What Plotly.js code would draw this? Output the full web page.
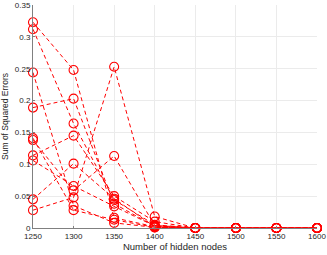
<!DOCTYPE html>
<html>
<head>
<meta charset="utf-8">
<script src="https://cdn.plot.ly/plotly-3.0.1.min.js"></script>
<style>html,body{margin:0;padding:0;background:#fff;}#chart{width:327px;height:255px;}</style>
</head>
<body>
<div id="chart"></div>
<script>
const hiddenNodes = [1250, 1300, 1350, 1400, 1450, 1500, 1550, 1600];
const run1  = [0.323, 0.248, 0.016, 0.002, 0, 0, 0, 0];
const run2  = [0.312, 0.164, 0.044, 0.005, 0, 0, 0, 0];
const run3  = [0.244, 0.035, 0.008, 0.001, 0, 0, 0, 0];
const run4  = [0.189, 0.203, 0.038, 0.003, 0, 0, 0, 0];
const run5  = [0.141, 0.028, 0.013, 0.001, 0, 0, 0, 0];
const run6  = [0.138, 0.059, 0.113, 0.004, 0, 0, 0, 0];
const run7  = [0.114, 0.145, 0.050, 0.010, 0, 0, 0, 0];
const run8  = [0.106, 0.066, 0.034, 0.003, 0, 0, 0, 0];
const run9  = [0.045, 0.101, 0.046, 0.002, 0, 0, 0, 0];
const run10 = [0.028, 0.048, 0.253, 0.018, 0, 0, 0, 0];
const runs = [run1, run2, run3, run4, run5, run6, run7, run8, run9, run10];
const xTicks = [1250, 1300, 1350, 1400, 1450, 1500, 1550, 1600];
const yTicks = [0, 0.05, 0.1, 0.15, 0.2, 0.25, 0.3, 0.35];
const yTickText = ['0', '0.05', '0.1', '0.15', '0.2', '0.25', '0.3', '0.35'];

const traces = runs.map(r => ({
  x: hiddenNodes, y: r, type: 'scatter', mode: 'lines+markers',
  cliponaxis: false,
  line: {color: '#ff0000', width: 1, dash: '4px,3px'},
  marker: {symbol: 'circle-open', size: 9, color: '#ff0000', line: {color: '#ff0000', width: 1.1}}
}));

const font = {family: 'Liberation Sans, Arial, sans-serif', size: 8, color: '#262626'};
const layout = {
  width: 327, height: 255,
  margin: {l: 33, r: 10, t: 5, b: 27},
  paper_bgcolor: '#fff', plot_bgcolor: '#fff',
  showlegend: false,
  font: font,
  xaxis: {
    range: [1250, 1600], tickvals: xTicks, ticktext: xTicks.map(String),
    ticklabeloverflow: 'allow',
    showgrid: true, gridcolor: '#ebebeb', gridwidth: 1,
    zeroline: false, showline: true, linecolor: '#808080', linewidth: 1,
    ticks: 'inside', ticklen: 2, tickcolor: '#808080',
    tickfont: font,
    title: {text: 'Number of hidden nodes', font: {family: font.family, size: 9.5, color: '#262626'}, standoff: 3}
  },
  yaxis: {
    range: [0, 0.35], tickvals: yTicks, ticktext: yTickText,
    ticklabeloverflow: 'allow',
    showgrid: true, gridcolor: '#ebebeb', gridwidth: 1,
    zeroline: false, showline: true, linecolor: '#808080', linewidth: 1,
    ticks: 'inside', ticklen: 2, tickcolor: '#808080',
    tickfont: font,
    title: {text: 'Sum of Squared Errors', font: {family: font.family, size: 8.5, color: '#262626'}, standoff: 4}
  }
};
Plotly.newPlot('chart', traces, layout, {staticPlot: true, displayModeBar: false});
</script>
</body>
</html>
